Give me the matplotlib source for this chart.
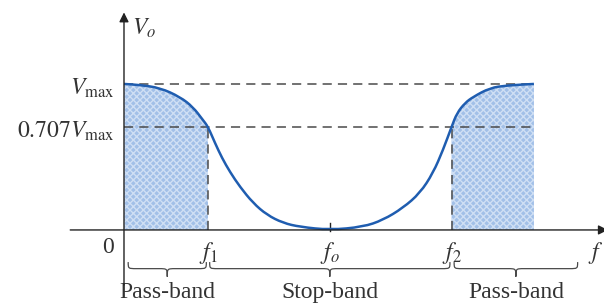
import numpy as np
import matplotlib
matplotlib.use("Agg")
import matplotlib.pyplot as plt
from matplotlib.path import Path
from matplotlib.patches import PathPatch

plt.rcParams['font.family'] = ['Liberation Serif', 'DejaVu Serif']
plt.rcParams['mathtext.fontset'] = 'stix'

# band-stop response (f in units of f1, Vo in units of Vmax)
freq = [0.0, 0.19, 0.43, 0.667, 0.821, 0.94, 1.0, 1.083, 1.167, 1.262, 1.381, 1.536,
        1.702, 1.893, 2.095, 2.45, 2.845, 3.083, 3.321, 3.524, 3.679, 3.798, 3.9,
        3.964, 4.06, 4.155, 4.357, 4.56, 4.88]
vout = [1.0, 0.993, 0.973, 0.911, 0.842, 0.753, 0.707, 0.596, 0.493, 0.397, 0.295, 0.185,
        0.103, 0.048, 0.021, 0.0, 0.021, 0.068, 0.151, 0.253, 0.39, 0.548, 0.707,
        0.801, 0.87, 0.911, 0.973, 0.99, 1.0]
f1, fo, f2, fend = 1.0, 2.45, 3.9, 4.88
vmax, vcut = 1.0, 0.707
bands = [(0.05, 0.98, 'Pass-band'), (1.02, 3.88, 'Stop-band'), (3.93, 5.4, 'Pass-band')]

freq = np.array(freq)
vout = np.array(vout)

fig = plt.figure(figsize=(6.04, 3.05), dpi=100)
ax = fig.add_axes([0, 0, 1, 1])
ax.set_xlim(-1.476, 5.714)
ax.set_ylim(-0.514, 1.575)
ax.axis('off')

tc = '#333333'
dc = '#4a4a4a'

# shaded pass-bands
fill_kw = dict(facecolor='#a2c0e8', edgecolor='#cfdff4', hatch='xxxxx', linewidth=0, zorder=1)
m1 = freq <= f1
ax.fill_between(freq[m1], 0, vout[m1], **fill_kw)
m2 = freq >= f2
ax.fill_between(freq[m2], 0, vout[m2], **fill_kw)

# dashed reference lines
dash = dict(color=dc, lw=1.1, dashes=(6, 4), zorder=2)
ax.plot([0, fend], [vmax, vmax], **dash)
ax.plot([0, fend], [vcut, vcut], **dash)
ax.plot([f1, f1], [0, vcut], **dash)
ax.plot([f2, f2], [0, vcut], **dash)

# response curve, drawn smooth through the read points (quadratic pieces)
pts = np.column_stack([freq, vout])
mids = (pts[:-1] + pts[1:]) / 2
verts = [pts[0], mids[0]]
codes = [Path.MOVETO, Path.LINETO]
for i in range(1, len(pts) - 1):
    verts += [pts[i], mids[i]]
    codes += [Path.CURVE3, Path.CURVE3]
verts.append(pts[-1])
codes.append(Path.LINETO)
ax.add_patch(PathPatch(Path(verts, codes), fill=False, edgecolor='#1f5db0', lw=1.8, zorder=3))

# axes
arrow = dict(arrowstyle='-|>', color='#222222', lw=1.0, mutation_scale=14, shrinkA=0, shrinkB=0)
ax.annotate('', xy=(5.76, 0), xytext=(-0.64, 0), arrowprops=arrow,
            annotation_clip=False, zorder=4)
ax.annotate('', xy=(0, 1.49), xytext=(0, -0.377), arrowprops=arrow,
            annotation_clip=False, zorder=4)
ax.plot([fo, fo], [-0.01, 0.05], color='#222222', lw=1.0)

# labels
fs = 17
ax.text(0.1, 1.38, r'$V_o$', fontsize=fs, color=tc, ha='left', va='center')
ax.text(-0.11, vmax - 0.03, r'$V_{\mathrm{max}}$', fontsize=fs, color=tc, ha='right', va='center')
ax.text(-0.11, vcut - 0.03, r'$0.707V_{\mathrm{max}}$', fontsize=fs, color=tc, ha='right', va='center')
ax.text(-0.19, -0.12, '0', fontsize=fs, color=tc, ha='center', va='center')
ax.text(f1, -0.16, r'$f_1$', fontsize=fs, color=tc, ha='center', va='center')
ax.text(fo, -0.16, r'$f_o$', fontsize=fs, color=tc, ha='center', va='center')
ax.text(f2, -0.16, r'$f_2$', fontsize=fs, color=tc, ha='center', va='center')
ax.text(5.62, -0.16, r'$f$', fontsize=fs, color=tc, ha='center', va='center')


def brace(x0, x1, ytop, h, depth, r):
    xm = (x0 + x1) / 2
    yb = ytop - h
    verts = [(x0, ytop), (x0, yb), (x0, yb), (x0 + r, yb),
             (xm - r, yb),
             (xm, yb), (xm, yb), (xm, ytop - depth),
             (xm, yb), (xm, yb), (xm + r, yb),
             (x1 - r, yb),
             (x1, yb), (x1, yb), (x1, ytop)]
    codes = [Path.MOVETO, Path.CURVE4, Path.CURVE4, Path.CURVE4,
             Path.LINETO,
             Path.CURVE4, Path.CURVE4, Path.CURVE4,
             Path.CURVE4, Path.CURVE4, Path.CURVE4,
             Path.LINETO,
             Path.CURVE4, Path.CURVE4, Path.CURVE4]
    ax.add_patch(PathPatch(Path(verts, codes), fill=False, edgecolor=dc, lw=0.9))


for b0, b1, name in bands:
    brace(b0, b1, -0.22, 0.045, 0.1, 0.1)
    ax.text((b0 + b1) / 2, -0.43, name, fontsize=fs, color=tc, ha='center', va='center')

fig.savefig('out.png', dpi=100)
